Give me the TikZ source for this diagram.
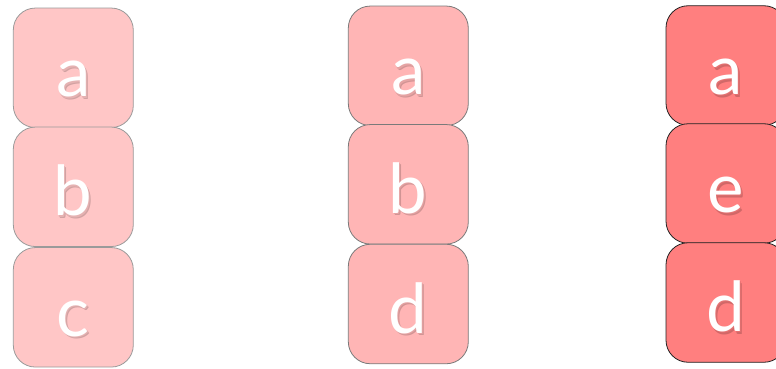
\documentclass[tikz,border=0pt]{standalone}
\usepackage{fontspec}
\setmainfont{Lato}
\definecolor{fillA}{HTML}{FFC6C6}
\definecolor{fillB}{HTML}{FFB5B5}
\definecolor{fillC}{HTML}{FF7F7F}
\definecolor{edgeA}{HTML}{9A9A9A}
\definecolor{edgeB}{HTML}{7A7A7A}
\definecolor{edgeC}{HTML}{222222}
\tikzset{
  cell/.style={rectangle, rounded corners=22pt, minimum width=120pt, minimum height=119.5pt, inner sep=0pt, line width=0.8pt},
  cellA/.style={cell, fill=fillA, draw=edgeA},
  cellB/.style={cell, fill=fillB, draw=edgeB},
  cellC/.style={cell, fill=fillC, draw=edgeC},
  lbl/.style={anchor=base, text=white, font=\fontsize{69}{69}\selectfont, inner sep=0pt}
}
% one text node: soft shadow copy plus white letter
\newcommand{\celltext}[3]{%
  \node[lbl] at ([yshift=31pt]#1.south)
    {\rlap{\hspace{2pt}\raisebox{-2.5pt}{\textcolor{#3!82!black}{#2}}}\rlap{\hspace{1pt}\raisebox{-1.2pt}{\textcolor{#3!90!black}{#2}}}#2};
}
\begin{document}
\begin{tikzpicture}[x=1pt,y=-1pt]
\useasboundingbox (0,0) rectangle (776,369);
\clip (0,0) rectangle (776,369);
% column 1
\node[cellA] (a1) at (73.3,67.8) {};
\node[cellA] (b1) at (73.3,186.8) {};
\node[cellA] (c1) at (73.3,307.3) {};
\celltext{a1}{a}{fillA}
\celltext{b1}{b}{fillA}
\celltext{c1}{c}{fillA}
% column 2
\node[cellB] (a2) at (408.3,65.8) {};
\node[cellB] (b2) at (408.3,184.3) {};
\node[cellB] (d2) at (408.3,304) {};
\celltext{a2}{a}{fillB}
\celltext{b2}{b}{fillB}
\celltext{d2}{d}{fillB}
% column 3
\node[cellC] (a3) at (726,65.5) {};
\node[cellC] (e3) at (726,183.5) {};
\node[cellC] (d3) at (726,302.5) {};
\celltext{a3}{a}{fillC}
\celltext{e3}{e}{fillC}
\celltext{d3}{d}{fillC}
\end{tikzpicture}
\end{document}
